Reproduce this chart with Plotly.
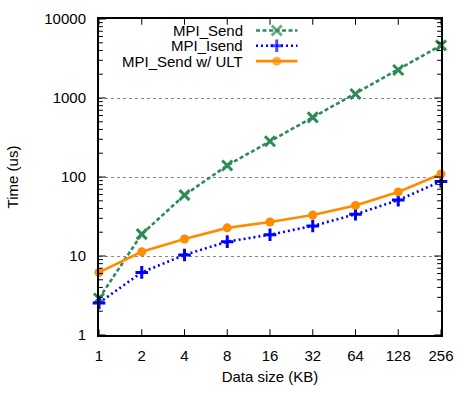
import plotly.graph_objects as go
import math

sizes_kb = [1, 2, 4, 8, 16, 32, 64, 128, 256]
tick_labels = ["1", "2", "4", "8", "16", "32", "64", "128", "256"]
mpi_send = [2.9, 18.9, 59, 140, 283, 568, 1122, 2259, 4630]
mpi_isend = [2.55, 6.2, 10.3, 15.2, 18.6, 24, 33.7, 51, 88]
mpi_send_ult = [6.2, 11.3, 16.4, 22.7, 26.9, 33, 43.7, 64.7, 109]
y_ticks = [1, 10, 100, 1000, 10000]
y_tick_labels = ["1", "10", "100", "1000", "10000"]

series = [
    ("MPI_Send", mpi_send, "#2e8b57", "4px,2.5px", "x-thin", 10, 3),
    ("MPI_Isend", mpi_isend, "#0000ff", "2px,3px", "cross-thin", 9, 3),
    ("MPI_Send w/ ULT", mpi_send_ult, "#ff8c00", "solid", "circle", 9, 0),
]

FONT = "Liberation Sans, Arial, Helvetica, sans-serif"
FS = 15
fig = go.Figure()

for name, vals, col, dash, sym, msize, mlw in series:
    fig.add_trace(go.Scatter(
        x=sizes_kb, y=vals, mode="lines+markers", name=name,
        line=dict(color=col, width=2.6, dash=dash),
        marker=dict(symbol=sym, size=msize, color=col, line=dict(color=col, width=mlw)),
        showlegend=False, cliponaxis=False,
    ))

W, H = 464, 393
ml, mr, mt, mb = 99, 10, 12, 51
pw, ph = W - ml - mr, H - mt - mb
XMAX = math.log10(256)
YMAX = 4.0


def px_to_data(xpx, ypx):
    fx = (xpx - ml) / pw
    fy = (H - mb - ypx) / ph
    return 10 ** (fx * XMAX), 10 ** (fy * YMAX)


# manual gnuplot-style legend (text right-aligned, sample on right)
rows_px = [24, 40, 56]
for (name, vals, col, dash, sym, msize, mlw), ypx in zip(series, rows_px):
    xa, ya = px_to_data(262, ypx)
    xm, _ = px_to_data(283.5, ypx)
    xb, _ = px_to_data(305, ypx)
    xt, _ = px_to_data(251, ypx)
    fig.add_trace(go.Scatter(
        x=[xa, xm, xb], y=[ya, ya, ya], mode="lines+markers",
        showlegend=False, hoverinfo="skip",
        line=dict(color=col, width=2.6, dash=dash),
        marker=dict(symbol=sym, size=[0, msize, 0], color=col, line=dict(color=col, width=mlw)),
    ))
    fig.add_annotation(x=math.log10(xt), y=math.log10(ya), text=name,
                       showarrow=False, xanchor="right", yanchor="middle",
                       font=dict(family=FONT, size=FS, color="black"))

# gnuplot-style inside ticks on all four sides (plot-area coordinates)
tick_style = dict(color="black", width=1)
for v in sizes_kb:
    f = math.log10(v) / XMAX
    fig.add_shape(type="line", xref="paper", yref="paper", x0=f, x1=f, y0=0, y1=6 / ph,
                  line=tick_style, layer="above")
    fig.add_shape(type="line", xref="paper", yref="paper", x0=f, x1=f, y0=1 - 6 / ph, y1=1,
                  line=tick_style, layer="above")
for v in y_ticks:
    f = math.log10(v) / YMAX
    for x0, x1 in ((0, 7 / pw), (1 - 7 / pw, 1)):
        fig.add_shape(type="line", xref="paper", yref="paper", x0=x0, x1=x1, y0=f, y1=f,
                      line=tick_style, layer="above")
for d in range(4):
    for m in range(2, 10):
        f = math.log10(m * 10 ** d) / YMAX
        for x0, x1 in ((0, 4 / pw), (1 - 4 / pw, 1)):
            fig.add_shape(type="line", xref="paper", yref="paper", x0=x0, x1=x1, y0=f, y1=f,
                          line=tick_style, layer="above")

fig.update_layout(
    width=W, height=H,
    margin=dict(l=ml, r=mr, t=mt, b=mb),
    paper_bgcolor="white", plot_bgcolor="white",
    font=dict(family=FONT, size=FS, color="black"),
    xaxis=dict(
        type="log", range=[0, XMAX + 1e-9],
        tickvals=sizes_kb, ticktext=tick_labels, ticklabeloverflow="allow",
        ticks="", ticklabelstandoff=6,
        showline=True, linecolor="black", linewidth=2, mirror=True,
        showgrid=False, zeroline=False,
        title=dict(text="Data size (KB)", standoff=8, font=dict(size=FS)),
    ),
    yaxis=dict(
        type="log", range=[0, YMAX],
        tickvals=y_ticks, ticktext=y_tick_labels, ticklabeloverflow="allow",
        ticks="", ticklabelstandoff=8,
        showline=True, linecolor="black", linewidth=2, mirror=True,
        showgrid=True, gridcolor="#888888", griddash="dot", gridwidth=1,
        zeroline=False,
        title=dict(text="Time (us)", standoff=22, font=dict(size=FS)),
    ),
)

fig.write_html("out.html", config={"displayModeBar": False},
               post_script="document.body.style.margin='0';document.body.style.overflow='hidden';")
